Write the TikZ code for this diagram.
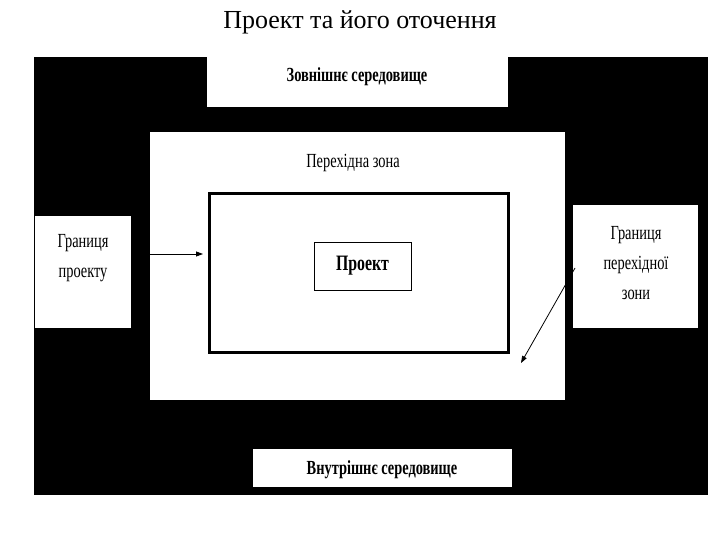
\documentclass[tikz,border=0pt]{standalone}
\usepackage{fontspec}
\setmainfont{Liberation Serif}
\usetikzlibrary{arrows.meta}
\newcommand{\nar}[1]{\scalebox{0.72}[1]{#1}}
\tikzset{wbox/.style={fill=white,draw=none,inner sep=0pt},
lbl/.style={font=\fontsize{20}{30}\selectfont,align=center},
arr/.style={-{Triangle[length=7pt,width=5pt]},line width=0.8pt}}
\begin{document}
\begin{tikzpicture}[x=1pt,y=-1pt]
\useasboundingbox[fill=white] (0,0) rectangle (720,540);
\node[font=\fontsize{26}{30}\selectfont] (title) at (360,22) {Проект та його оточення};
\fill (34,57) rectangle (708,495);
\fill[white] (207,57) rectangle (508,107);
\node[lbl,font=\bfseries\fontsize{20}{24}\selectfont] (outer) at (357,77) {\nar{Зовнішнє середовище}};
\fill[white] (150,132) rectangle (565,400);
\node[lbl] (trans) at (353,163) {\nar{Перехідна зона}};
\draw[line width=3pt] (209,194) rectangle (508,352);
\node[draw,line width=0.6pt,minimum width=97pt,minimum height=48pt,font=\bfseries\fontsize{22}{24}\selectfont] (proj) at (362.5,266) {\nar{Проект}};
\fill[white] (35,216) rectangle (131,328);
\node[lbl] (lb) at (83,258) {\nar{Границя}\\\nar{проекту}};
\fill[white] (573,205) rectangle (698,328);
\node[lbl] (rb) at (636,263) {\nar{Границя}\\\nar{перехідної}\\\nar{зони}};
\coordinate (la) at (136,254);
\coordinate (lt) at (203,254);
\coordinate (ra) at (575,268);
\coordinate (rt) at (521,363);
\draw[arr] (la) -- (lt);
\draw[arr] (ra) -- (rt);
\fill[white] (253,449) rectangle (512,487);
\node[lbl,font=\bfseries\fontsize{20}{24}\selectfont] (inner) at (382,470) {\nar{Внутрішнє середовище}};
\end{tikzpicture}
\end{document}
